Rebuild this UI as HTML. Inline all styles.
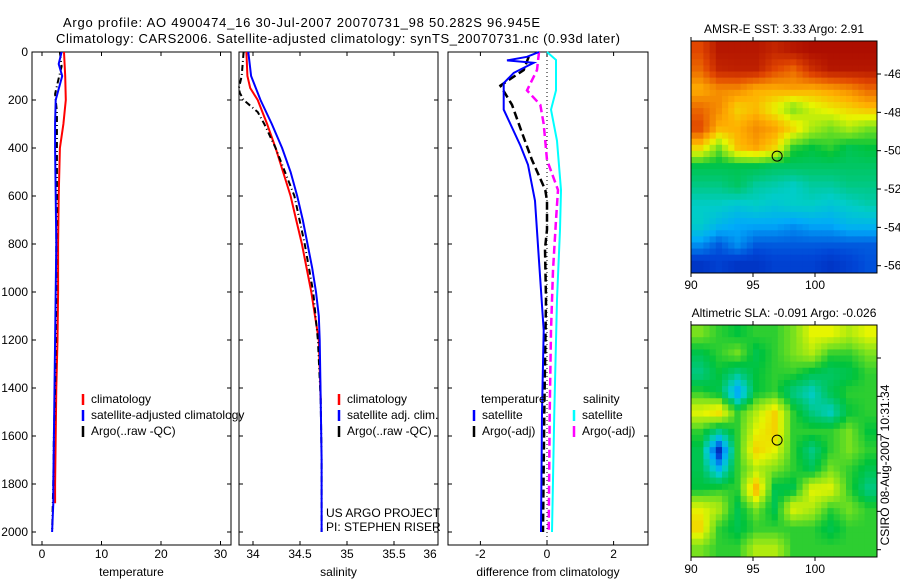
<!DOCTYPE html>
<html><head><meta charset="utf-8">
<style>
html,body{margin:0;padding:0;background:#fff;}
svg{display:block;font-family:"Liberation Sans",sans-serif;}
text{font-size:12px;fill:#000;}
</style></head>
<body>
<svg id="fig" width="900" height="580" viewBox="0 0 900 580" xmlns="http://www.w3.org/2000/svg">
<text x="63" y="27" textLength="477" style="font-size:13px">Argo profile: AO 4900474_16 30-Jul-2007 20070731_98 50.282S 96.945E</text>
<text x="56" y="43" textLength="564" style="font-size:13px">Climatology: CARS2006. Satellite-adjusted climatology: synTS_20070731.nc (0.93d later)</text>
<g id="g"></g>
</svg>
<script>
// ---- data ----
const tPres = [0,50,100,200,300,400,600,800,1000,1200,1400,1600,1800,1880];
const tClim = [3.7,3.8,3.9,4.0,3.6,3.0,2.8,2.7,2.7,2.6,2.4,2.3,2.2,2.2];
const tSat = [3.3,2.8,3.4,2.3,2.2,2.2,2.3,2.4,2.3,2.2,2.1,2.0,1.9,1.9];
const tArgoPres = [0,60,120,175,250,400,600,800,1000,1200,1400,1600,1800,2000];
const tArgo = [3.0,3.3,2.7,2.2,2.5,2.5,2.5,2.4,2.4,2.3,2.2,2.0,1.9,1.7];
const tSatDeepPres = [1880,2000];
const tSatDeep = [1.9,1.7];

const sPres = [0,100,150,200,300,400,500,600,700,800,900,1000,1100,1200,1450,1700,2000];
const sClim = [33.93,33.94,33.97,34.05,34.15,34.24,34.32,34.40,34.46,34.52,34.57,34.62,34.66,34.70,34.72,null,null];
const sSat = [33.95,33.98,34.03,34.08,34.20,34.31,34.40,34.47,34.53,34.58,34.63,34.67,34.70,34.71,34.72,34.73,34.73];
const sArgoPres = [0,100,150,170,200,250,300,400,500,600,800,1000,1200,1450,1700,2000];
const sArgo = [33.9,33.88,33.85,33.86,33.9,34.05,34.12,34.24,34.34,34.44,34.55,34.64,34.69,34.72,34.73,34.73];

const dPres = [0,20,35,45,87,130,240,390,470,620,870,1160,1500,2000];
const dTSat = [-0.24,-0.6,-1.2,-0.4,-1.0,-1.3,-1.3,-0.8,-0.57,-0.36,-0.24,-0.1,-0.15,-0.18];
const dTArgoPres = [20,75,140,220,325,450,575,620,740,820,1030,1500,2000];
const dTArgo = [-0.55,-0.7,-1.4,-1.05,-0.78,-0.45,-0.05,0.0,0.0,-0.06,-0.03,-0.08,-0.12];
const dSPres = [0,75,160,220,300,450,575,700,910,1160,1500,2000];
const dSArgo = [-0.24,-0.3,-0.6,-0.2,-0.1,0.0,0.33,0.27,0.18,0.12,0.08,0.05];
const dSSatPres = [0,33,160,240,370,575,740,1030,1500,2000];
const dSSat = [0.0,0.27,0.27,0.12,0.3,0.42,0.39,0.3,0.22,0.15];

const tTicks = [0,10,20,30];
const sTicks = [34,34.5,35,35.5,36];
const dTicks = [-2,0,2];
const pTicks = [0,200,400,600,800,1000,1200,1400,1600,1800,2000];
const latTicks = [-46,-48,-50,-52,-54,-56];
const lonTicks = [90,95,100];

const sstGrid = [
[0.85,0.95,0.95,0.95,0.92,0.95,0.97,0.97,0.97,0.97],
[0.8,0.92,0.93,0.93,0.85,0.8,0.9,0.95,0.95,0.95],
[0.7,0.75,0.75,0.7,0.7,0.72,0.7,0.72,0.75,0.8],
[0.8,0.75,0.65,0.68,0.6,0.5,0.58,0.62,0.65,0.68],
[0.85,0.7,0.7,0.75,0.72,0.65,0.55,0.5,0.55,0.5],
[0.65,0.5,0.68,0.72,0.65,0.45,0.42,0.45,0.4,0.42],
[0.4,0.4,0.4,0.4,0.38,0.38,0.38,0.38,0.38,0.38],
[0.35,0.35,0.38,0.33,0.32,0.3,0.33,0.33,0.35,0.35],
[0.3,0.3,0.28,0.3,0.28,0.3,0.3,0.28,0.3,0.32],
[0.3,0.25,0.22,0.22,0.22,0.2,0.22,0.22,0.25,0.25],
[0.2,0.15,0.2,0.15,0.15,0.15,0.15,0.15,0.15,0.15],
[0.1,0.12,0.1,0.1,0.12,0.12,0.12,0.1,0.12,0.14]];
const slaGrid = [
[.5,.45,.42,.45,.45,.5,.6,.6,.55,.6],
[.4,.45,.5,.4,.45,.5,.55,.45,.45,.5],
[.35,.42,.35,.42,.45,.45,.4,.38,.4,.45],
[.45,.4,.2,.42,.45,.35,.3,.4,.45,.45],
[.6,.65,.45,.55,.65,.45,.35,.3,.42,.45],
[.45,.35,.45,.6,.65,.45,.45,.45,.5,.42],
[.4,.08,.45,.65,.6,.45,.35,.45,.5,.45],
[.4,.25,.45,.55,.5,.45,.4,.5,.45,.4],
[.42,.45,.45,.7,.4,.4,.6,.6,.45,.35],
[.6,.55,.4,.5,.4,.6,.55,.45,.5,.45],
[.65,.45,.4,.45,.45,.45,.45,.4,.45,.45],
[.5,.45,.45,.55,.55,.45,.45,.45,.45,.45]];
const argoLon = 96.945, argoLat = -50.282;

// ---- helpers ----
const NS="http://www.w3.org/2000/svg";
const G=document.getElementById('g');
function mk(tag,attrs,parent){const e=document.createElementNS(NS,tag);for(const k in attrs)e.setAttribute(k,attrs[k]);(parent||G).appendChild(e);return e;}
const PT=52, PB=545;
const yP=p=>PT+p*0.24;
const xT=v=>42+v*5.95;
const xS=v=>300+(v-34.5)*94;
const xD=v=>547+v*33.3;
const mapX=lon=>691+(lon-90)*12.4;
const mapY1=lat=>74+(-46-lat)*19.17;
const mapY2=lat=>358+(-46-lat)*19.17;

function line(xs,ps,xf,color,w,dash,name){
  let d='';let pen=false;
  for(let i=0;i<xs.length;i++){ if(xs[i]==null){pen=false;continue;} d+=(pen?'L':'M')+xf(xs[i]).toFixed(1)+','+yP(ps[i]).toFixed(1);pen=true;}
  const e=mk('path',{d:d,fill:'none',stroke:color,'stroke-width':w});
  if(dash)e.setAttribute('stroke-dasharray',dash);
  
  
  return e;
}
function panel(x0,x1,name,ticks,xf,labels,xlabel){
  const r=mk('rect',{x:x0,y:PT,width:x1-x0,height:PB-PT,fill:'none',stroke:'#000','stroke-width':1});
  
  
  ticks.forEach((t,i)=>{const x=xf(t); if(x>=x0&&x<=x1){mk('line',{x1:x,x2:x,y1:PB,y2:PB-4,stroke:'#000'});mk('line',{x1:x,x2:x,y1:PT,y2:PT+4,stroke:'#000'});}
    const tx=mk('text',{x:Math.min(x,x1-8),y:558,'text-anchor':'middle'});tx.textContent=labels[i];
    
    });
  pTicks.forEach(p=>{mk('line',{x1:x0,x2:x0+4,y1:yP(p),y2:yP(p),stroke:'#000'});mk('line',{x1:x1,x2:x1-4,y1:yP(p),y2:yP(p),stroke:'#000'});});
  const xl=mk('text',{x:(x0+x1)/2,y:576,'text-anchor':'middle'});xl.textContent=xlabel;
  
  
}
pTicks.forEach(p=>{const t=mk('text',{x:28,y:yP(p)+4,'text-anchor':'end'});t.textContent=p;
  
  });

panel(32,231,'temperature-panel',tTicks,xT,tTicks.map(String),'temperature');
panel(239,438,'salinity-panel',sTicks,xS,sTicks.map(String),'salinity');
panel(448,648,'difference-panel',dTicks,xD,dTicks.map(String),'difference from climatology');

line(tClim,tPres,xT,'#f00',2,null,'temperature-climatology-line');
line(tArgo,tArgoPres,xT,'#000',2,'6,3,1,3','temperature-argo-line');
line(tSat,tPres,xT,'#00f',2,null,'temperature-satellite-line');
line(tSatDeep,tSatDeepPres,xT,'#00f',2,null,'temperature-satellite-deep-line');
line(sClim,sPres,xS,'#f00',2,null,'salinity-climatology-line');
line(sArgo,sArgoPres,xS,'#000',2,'6,3,1,3','salinity-argo-line');
line(sSat,sPres,xS,'#00f',2,null,'salinity-satellite-line');
const zl=mk('line',{x1:xD(0),x2:xD(0),y1:PT,y2:PB,stroke:'#000','stroke-dasharray':'1,3'});


line(dSSat,dSSatPres,xD,'#0ff',2,null,'salinity-satellite-difference-line');
line(dSArgo,dSPres,xD,'#f0f',2.5,'8,4','salinity-argo-difference-line');
line(dTArgo,dTArgoPres,xD,'#000',2.5,'8,4','temperature-argo-difference-line');
line(dTSat,dPres,xD,'#00f',2,null,'temperature-satellite-difference-line');

function leg(x,y,color,label,name){
  mk('line',{x1:x,x2:x,y1:y-9,y2:y+2,stroke:color,'stroke-width':2.5});
  const t=mk('text',{x:x+8,y:y});t.textContent=label;
  
  
}
leg(83,403,'#f00','climatology','temp-legend-climatology');
leg(83,419,'#00f','satellite-adjusted climatology','temp-legend-satellite');
leg(83,435,'#000','Argo(..raw -QC)','temp-legend-argo');
leg(339,403,'#f00','climatology','sal-legend-climatology');
leg(339,419,'#00f','satellite adj. clim.','sal-legend-satellite');
leg(339,435,'#000','Argo(..raw -QC)','sal-legend-argo');
let tt=mk('text',{x:481,y:403});tt.textContent='temperature';


tt=mk('text',{x:583,y:403});tt.textContent='salinity';


leg(474,419,'#00f','satellite','diff-legend-temp-satellite');
leg(474,435,'#000','Argo(-adj)','diff-legend-temp-argo');
leg(574,419,'#0ff','satellite','diff-legend-sal-satellite');
leg(574,435,'#f0f','Argo(-adj)','diff-legend-sal-argo');
tt=mk('text',{x:326,y:517});tt.textContent='US ARGO PROJECT';


tt=mk('text',{x:326,y:531});tt.textContent='PI: STEPHEN RISER';



// colormap (matched to reference hues)
const cmStops=[[0,[0,0,140]],[0.13,[0,70,215]],[0.22,[0,170,250]],[0.3,[0,205,200]],[0.36,[0,200,120]],[0.42,[0,195,60]],[0.5,[120,225,30]],[0.6,[230,245,0]],[0.7,[255,175,0]],[0.85,[225,70,0]],[1,[160,0,0]]];
function cmap(v){v=Math.max(0,Math.min(1,v));
  for(let i=1;i<cmStops.length;i++){if(v<=cmStops[i][0]){const a=cmStops[i-1],b=cmStops[i],f=(v-a[0])/(b[0]-a[0]);
    return 'rgb('+a[1].map((c,k)=>Math.round(c+(b[1][k]-c)*f)).join(',')+')';}}
  return 'rgb(160,0,0)';}
function sample(grid,u,v){ // bilinear in cell-centre coords
  const rows=grid.length,cols=grid[0].length;
  let x=u*cols-0.5,y=v*rows-0.5;x=Math.max(0,Math.min(cols-1,x));y=Math.max(0,Math.min(rows-1,y));
  const i0=Math.floor(y),j0=Math.floor(x),i1=Math.min(rows-1,i0+1),j1=Math.min(cols-1,j0+1),fy=y-i0,fx=x-j0;
  return grid[i0][j0]*(1-fx)*(1-fy)+grid[i0][j1]*fx*(1-fy)+grid[i1][j0]*(1-fx)*fy+grid[i1][j1]*fx*fy;}
function map(grid,top,bottom,mapY,name,title,titleY,showLat){
  const x0=691,x1=877,NX=30,NY=38;
  const cw=(x1-x0)/NX,ch=(bottom-top)/NY;
  for(let i=0;i<NY;i++)for(let j=0;j<NX;j++){
    const c=mk('rect',{x:(x0+j*cw).toFixed(2),y:(top+i*ch).toFixed(2),width:(cw+0.5).toFixed(2),height:(ch+0.5).toFixed(2),fill:cmap(sample(grid,(j+0.5)/NX,(i+0.5)/NY))});
    
    
  }
  const f=mk('rect',{x:x0,y:top,width:x1-x0,height:bottom-top,fill:'none',stroke:'#000'});
  
  
  latTicks.forEach(l=>{const y=mapY(l);mk('line',{x1:x1,x2:x1+4,y1:y,y2:y,stroke:'#000'});
    if(showLat){const t=mk('text',{x:884,y:y+4});t.textContent=String(l);
    
    }});
  lonTicks.forEach(l=>{const x=mapX(l);mk('line',{x1:x,x2:x,y1:top,y2:top-4,stroke:'#000'});mk('line',{x1:x,x2:x,y1:bottom,y2:bottom+4,stroke:'#000'});
    const t=mk('text',{x:x,y:bottom+16,'text-anchor':'middle'});t.textContent=String(l);
    
    });
  const c=mk('circle',{cx:mapX(argoLon),cy:mapY(argoLat),r:5,fill:'none',stroke:'#000','stroke-width':1});
  
  
  const t=mk('text',{x:784,y:titleY,'text-anchor':'middle'});t.textContent=title;
  
  
}
map(sstGrid,41,273,mapY1,'sst-map','AMSR-E SST: 3.33 Argo: 2.91',33,true);
map(slaGrid,325,557,mapY2,'sla-map','Altimetric SLA: -0.091  Argo: -0.026',317,false);
const st=mk('text',{x:0,y:0,transform:'translate(889,465) rotate(-90)','text-anchor':'middle'});
st.textContent='CSIRO 08-Aug-2007 10:31:34';


</script>
</body></html>
